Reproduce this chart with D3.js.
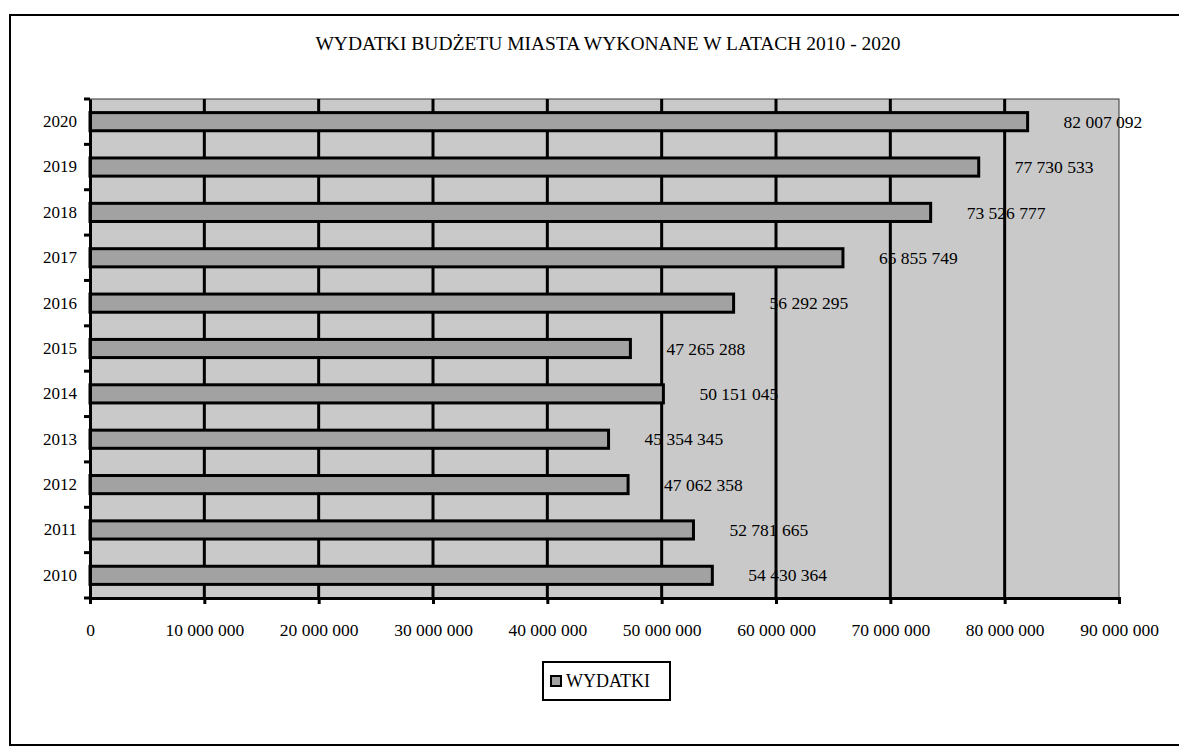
<html>
<head>
<meta charset="utf-8" />
<script src="https://cdn.jsdelivr.net/npm/d3@7/dist/d3.min.js"></script>
<style>
body { margin: 0; background: #fff; }
text { font-family: "Liberation Serif", "Times New Roman", serif; fill: #000; }
.axis path, .axis line { stroke: #000; }
</style>
</head>
<body>
<svg id="chart" width="1179" height="751"></svg>
<script>

// data
var years = ["2020", "2019", "2018", "2017", "2016", "2015", "2014", "2013", "2012", "2011", "2010"];
var wydatki = [82007092, 77730533, 73526777, 65855749, 56292295, 47265288, 50151045, 45354345, 47062358, 52781665, 54430364];
var xTicks = [0, 10000000, 20000000, 30000000, 40000000, 50000000, 60000000, 70000000, 80000000, 90000000];
var title = "WYDATKI BUDŻETU MIASTA WYKONANE W LATACH 2010 - 2020";
var seriesName = "WYDATKI";

var svgWidth = 1179, svgHeight = 751;
var margin = {top: 99, right: 60, bottom: 153, left: 90};
var width = svgWidth - margin.left - margin.right;
var height = svgHeight - margin.top - margin.bottom;

var plotBg = "#c9c9c9";
var barFill = "#a2a2a2";

var fmt = function(v) { return d3.format(",")(v).replace(/,/g, " "); };

var svg = d3.select("#chart");

// outer frame (right side runs off the page like in the scan)
svg.append("rect")
    .attr("x", 10).attr("y", 15)
    .attr("width", 1200).attr("height", 730)
    .attr("fill", "#fff")
    .attr("stroke", "#000")
    .attr("stroke-width", 2);

svg.append("text")
    .attr("x", 608)
    .attr("y", 50)
    .attr("text-anchor", "middle")
    .style("font-size", "19.5px")
    .text(title);

var g = svg.append("g").attr("transform", "translate(" + margin.left + "," + margin.top + ")");

var x = d3.scaleLinear()
    .domain([0, 90000000])
    .range([0, width]);

var y = d3.scaleBand()
    .domain(years)
    .range([0, height])
    .paddingInner(0.6)
    .paddingOuter(0.3);

// plot background
g.append("rect")
    .attr("width", width)
    .attr("height", height)
    .attr("fill", plotBg)
    .attr("stroke", "#333")
    .attr("stroke-width", 1);

// vertical gridlines
g.selectAll(".grid")
    .data(xTicks.slice(1, -1))
    .enter().append("line")
    .attr("class", "grid")
    .attr("x1", function(d) { return x(d); })
    .attr("x2", function(d) { return x(d); })
    .attr("y1", 0)
    .attr("y2", height)
    .attr("stroke", "#000")
    .attr("stroke-width", 3);

// bars
g.selectAll(".bar")
    .data(wydatki)
    .enter().append("rect")
    .attr("class", "bar")
    .attr("x", x(0))
    .attr("y", function(d, i) { return y(years[i]); })
    .attr("width", function(d) { return x(d) - x(0); })
    .attr("height", y.bandwidth())
    .attr("fill", barFill)
    .attr("stroke", "#000")
    .attr("stroke-width", 3);

// value labels
g.selectAll(".val")
    .data(wydatki)
    .enter().append("text")
    .attr("class", "val")
    .attr("x", function(d) { return x(d) + 36; })
    .attr("y", function(d, i) { return y(years[i]) + y.bandwidth() / 2; })
    .attr("dy", "0.35em")
    .style("font-size", "17.5px")
    .text(function(d) { return fmt(d); });

// x axis
var xAxis = g.append("g")
    .attr("class", "axis")
    .attr("transform", "translate(0," + height + ")")
    .call(d3.axisBottom(x).tickValues(xTicks).tickFormat(fmt).tickSize(6).tickPadding(20));
xAxis.select(".domain").attr("stroke-width", 3);
xAxis.selectAll(".tick line").attr("stroke-width", 3);
xAxis.selectAll("text").style("font-size", "17.5px");

// y axis: labels at band centers, ticks at band boundaries
var yAxis = g.append("g")
    .attr("class", "axis")
    .call(d3.axisLeft(y).tickSize(0).tickPadding(13));
yAxis.select(".domain").attr("stroke-width", 3);
yAxis.selectAll("text").style("font-size", "17px");

var half = y.step() * y.paddingInner() / 2;
var bounds = years.map(function(d) { return y(d) - half; }).concat([height]);
g.selectAll(".ytick")
    .data(bounds)
    .enter().append("line")
    .attr("class", "ytick")
    .attr("x1", -6).attr("x2", 0)
    .attr("y1", function(d) { return d; })
    .attr("y2", function(d) { return d; })
    .attr("stroke", "#000")
    .attr("stroke-width", 3);

// legend
var legend = svg.append("g").attr("transform", "translate(543,662)");
legend.append("rect")
    .attr("width", 127).attr("height", 38)
    .attr("fill", "#fff")
    .attr("stroke", "#000")
    .attr("stroke-width", 2);
legend.append("rect")
    .attr("x", 8).attr("y", 14)
    .attr("width", 10).attr("height", 10)
    .attr("fill", barFill)
    .attr("stroke", "#000")
    .attr("stroke-width", 2);
legend.append("text")
    .attr("x", 23).attr("y", 19)
    .attr("dy", "0.35em")
    .style("font-size", "18px")
    .text(seriesName);

</script>
</body>
</html>
